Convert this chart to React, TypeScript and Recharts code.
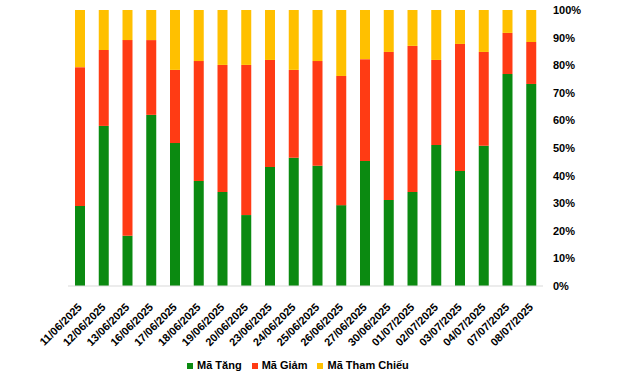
import React from "react";
import { BarChart, Bar, XAxis, YAxis, Legend } from "recharts";

const dates = [
  "11/06/2025", "12/06/2025", "13/06/2025", "16/06/2025", "17/06/2025",
  "18/06/2025", "19/06/2025", "20/06/2025", "23/06/2025", "24/06/2025",
  "25/06/2025", "26/06/2025", "27/06/2025", "30/06/2025", "01/07/2025",
  "02/07/2025", "03/07/2025", "04/07/2025", "07/07/2025", "08/07/2025",
];

// share of tickers (%)
const tang = [29.0, 58.0, 18.2, 62.0, 51.8, 38.0, 34.1, 25.7, 43.1, 46.5, 43.6, 29.3, 45.3, 31.2, 34.1, 51.1, 41.7, 50.8, 76.8, 73.2];
const giam = [50.3, 27.5, 70.9, 27.1, 26.5, 43.5, 46.0, 54.4, 38.8, 31.8, 37.9, 46.8, 36.9, 53.6, 52.9, 30.8, 46.0, 34.0, 14.9, 15.2];
const thamChieu = [20.7, 14.5, 10.9, 10.9, 21.7, 18.5, 19.9, 19.9, 18.1, 21.7, 18.5, 23.9, 17.8, 15.2, 13.0, 18.1, 12.3, 15.2, 8.3, 11.6];

const seriesNames = ["Mã Tăng", "Mã Giảm", "Mã Tham Chiếu"];

const yTicks = [0, 0.1, 0.2, 0.3, 0.4, 0.5, 0.6, 0.7, 0.8, 0.9, 1];

const data = dates.map((d, i) => ({
  date: d,
  tang: tang[i],
  giam: giam[i],
  thamChieu: thamChieu[i],
}));

const DateTick = (props: any) => {
  const { x, y, payload } = props;
  return (
    <text
      x={x}
      y={y + 11}
      dy={4}
      textAnchor="end"
      transform={`rotate(-45, ${x}, ${y + 11})`}
      fill="#000"
      fontSize={11}
      fontWeight="bold"
    >
      {payload.value}
    </text>
  );
};

export default function App() {
  return (
    <div
      style={{
        position: "absolute",
        left: 0,
        top: 0,
        width: 640,
        height: 375,
        background: "#fff",
        fontFamily: "'Liberation Sans', Arial, sans-serif",
      }}
    >
      <BarChart
        width={640}
        height={375}
        data={data}
        stackOffset="expand"
        margin={{ top: 10, right: 0, left: 68, bottom: 0 }}
      >
        <XAxis
          dataKey="date"
          interval={0}
          height={69}
          tickLine={false}
          axisLine={{ stroke: "#d9d9d9" }}
          tick={<DateTick />}
        />
        <YAxis
          orientation="right"
          width={97}
          domain={[0, 1]}
          ticks={yTicks}
          tickLine={false}
          axisLine={false}
          tickSize={0}
          tickMargin={10}
          tickFormatter={(v: number) => `${Math.round(v * 100)}%`}
          tick={{ fill: "#000", fontSize: 11, fontWeight: "bold" }}
        />
        <Legend
          verticalAlign="bottom"
          align="left"
          iconType="square"
          iconSize={6}
          itemSorter={(e: any) => seriesNames.indexOf(e.value)}
          wrapperStyle={{ left: 187, width: "auto", height: 20, lineHeight: "20px", fontSize: 11, fontWeight: "bold" }}
          formatter={(v: string) => <span style={{ color: "#000" }}>{v}</span>}
        />
        <Bar dataKey="tang" name={seriesNames[0]} stackId="a" fill="#0B8A11" barSize={10} isAnimationActive={false} />
        <Bar dataKey="giam" name={seriesNames[1]} stackId="a" fill="#FF3B14" barSize={10} isAnimationActive={false} />
        <Bar dataKey="thamChieu" name={seriesNames[2]} stackId="a" fill="#FFC000" barSize={10} isAnimationActive={false} />
      </BarChart>
    </div>
  );
}
